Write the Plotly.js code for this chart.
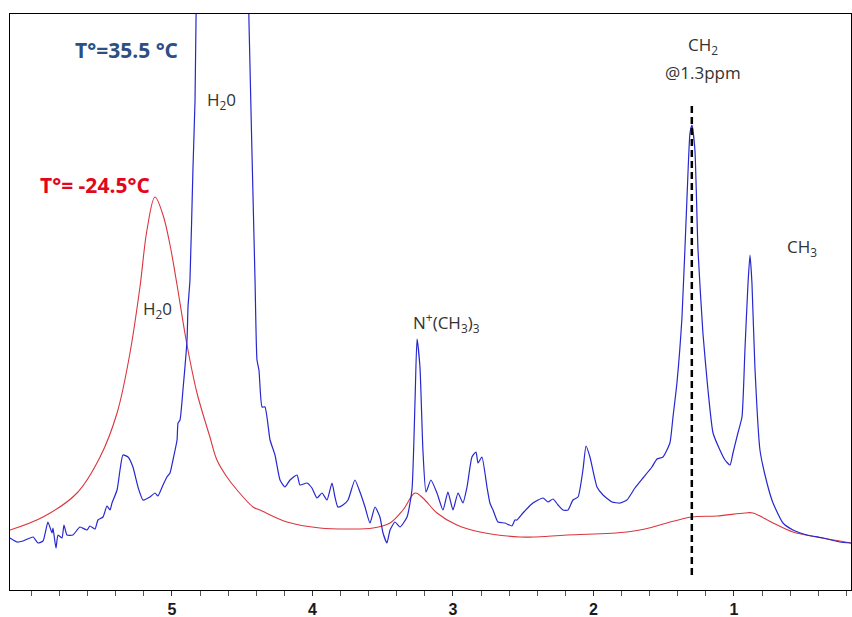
<!DOCTYPE html>
<html>
<head>
<meta charset="utf-8">
<script src="https://cdn.plot.ly/plotly-3.0.1.min.js"></script>
<style>html,body{margin:0;padding:0;background:#fff;}#chart{width:852px;height:617px;}</style>
</head>
<body>
<div id="chart"></div>
<script>
// Chemical shift (ppm) and intensity (a.u.)
const bluePpm = [6.153,6.103,6.060,5.989,5.954,5.918,5.883,5.854,5.847,5.826,5.811,5.783,5.769,5.747,5.705,5.655,5.605,5.584,5.548,5.527,5.491,5.463,5.441,5.427,5.391,5.370,5.349,5.313,5.278,5.242,5.206,5.157,5.121,5.100,5.064,5.036,5.014,4.993,4.964,4.957,4.943,4.922,4.893,4.886,4.872,4.851,4.836,4.829,4.64,4.452,4.409,4.395,4.381,4.359,4.338,4.302,4.267,4.231,4.196,4.160,4.110,4.089,4.039,4.004,3.968,3.932,3.897,3.861,3.840,3.819,3.783,3.747,3.698,3.662,3.626,3.591,3.555,3.520,3.498,3.470,3.448,3.413,3.377,3.327,3.292,3.270,3.256,3.235,3.214,3.192,3.157,3.114,3.071,3.036,3.000,2.964,2.929,2.900,2.865,2.836,2.822,2.794,2.758,2.737,2.715,2.680,2.630,2.580,2.559,2.544,2.502,2.431,2.359,2.324,2.288,2.252,2.217,2.181,2.146,2.110,2.075,2.053,2.025,1.975,1.932,1.868,1.811,1.762,1.705,1.648,1.584,1.548,1.505,1.456,1.434,1.406,1.370,1.335,1.313,1.299,1.278,1.256,1.221,1.185,1.149,1.100,1.064,1.028,1.007,0.972,0.943,0.922,0.900,0.886,0.872,0.851,0.815,0.765,0.722,0.651,0.580,0.480,0.367,0.246,0.167];
const blueInt = [52,48,49,53,47,49,68,57,62,42,55,52,65,55,55,63,60,64,61,70,73,84,80,87,100,120,135,133,123,103,90,93,97,94,105,113,117,130,150,167,170,200,250,283,310,420,490,570,2000,568,310,230,220,183,183,150,135,110,103,110,115,105,107,102,92,97,90,107,93,83,85,90,110,98,83,67,83,73,57,47,60,68,63,73,100,190,251,223,140,98,110,97,80,98,80,97,87,103,133,138,127,133,103,87,80,68,67,64,70,70,77,87,92,88,91,85,80,80,90,93,120,144,133,103,95,88,87,90,102,112,123,131,133,147,173,207,273,390,457,465,440,340,257,200,157,140,130,125,137,157,173,240,307,335,307,223,140,107,87,67,60,55,52,48,47];

const redPpm = [6.153,5.918,5.676,5.512,5.391,5.299,5.228,5.178,5.121,5.064,5.014,4.964,4.893,4.822,4.730,4.680,4.609,4.537,4.423,4.374,4.181,3.947,3.733,3.569,3.448,3.356,3.270,3.214,3.114,2.972,2.808,2.523,2.431,2.189,1.762,1.577,1.477,1.299,1.121,0.922,0.865,0.722,0.580,0.409,0.167];
const redInt = [60,73,97,133,177,237,303,360,393,375,345,305,245,197,153,130,113,100,83,80,68,62,61,62,67,80,97,92,77,65,58,53,53,55,58,63,67,73,74,77,77,67,58,53,47];

const seriesNames = ["T°=35.5 °C", "T°= -24.5°C"];
const ch2Ppm = 1.3;
const ch2LineInt = [15, 486];
const tickVals = [5, 4, 3, 2, 1];
const tickText = ["5", "4", "3", "2", "1"];

const labelFont = {family: "Open Sans", size: 17, color: "#333333"};

const traces = [
  {x: redPpm, y: redInt, type: "scatter", mode: "lines", name: seriesNames[1],
   line: {color: "#d9363e", width: 1.1, shape: "spline", smoothing: 1}, hoverinfo: "skip"},
  {x: bluePpm, y: blueInt, type: "scatter", mode: "lines", name: seriesNames[0],
   line: {color: "#2727cf", width: 1.2, shape: "spline", smoothing: 0.5}, hoverinfo: "skip"}
];

const layout = {
  width: 852, height: 617,
  margin: {l: 10, r: 1, t: 14, b: 27},
  paper_bgcolor: "#ffffff", plot_bgcolor: "#ffffff",
  showlegend: false,
  xaxis: {
    range: [6.153, 0.167], autorange: false,
    tickvals: tickVals, ticktext: tickText,
    ticks: "outside", ticklen: 5, tickwidth: 1, tickcolor: "#333",
    minor: {dtick: 0.2, ticks: "outside", ticklen: 5, tickwidth: 1, tickcolor: "#555", showgrid: false},
    tickfont: {family: "Liberation Sans", size: 16, weight: "bold", color: "#1a1a1a"},
    showline: true, linecolor: "#000", linewidth: 1, mirror: true,
    showgrid: false, zeroline: false
  },
  yaxis: {
    range: [0, 576], autorange: false,
    showticklabels: false, ticks: "",
    showline: true, linecolor: "#000", linewidth: 1, mirror: true,
    showgrid: false, zeroline: false
  },
  shapes: [
    {type: "line", xref: "x", yref: "y", x0: ch2Ppm, x1: ch2Ppm, y0: ch2LineInt[0], y1: ch2LineInt[1],
     line: {color: "#000", width: 2.5, dash: "7px,4px"}}
  ],
  annotations: [
    {x: 5.324, y: 540, xref: "x", yref: "y", text: "<b>T°=35.5 °C</b>", showarrow: false,
     font: {family: "Open Sans", size: 21, color: "#2d4f82"}},
    {x: 5.548, y: 405, xref: "x", yref: "y", text: "<b>T°= -24.5°C</b>", showarrow: false,
     font: {family: "Open Sans", size: 21, color: "#e3061c"}},
    {x: 4.648, y: 490, xref: "x", yref: "y", text: "H<sub>2</sub>0", showarrow: false, font: labelFont},
    {x: 5.103, y: 281, xref: "x", yref: "y", text: "H<sub>2</sub>0", showarrow: false, font: labelFont},
    {x: 3.043, y: 268, xref: "x", yref: "y", text: "N<sup>+</sup>(CH<sub>3</sub>)<sub>3</sub>", showarrow: false, font: labelFont},
    {x: 1.221, y: 545, xref: "x", yref: "y", text: "CH<sub>2</sub>", showarrow: false, font: labelFont},
    {x: 1.221, y: 518, xref: "x", yref: "y", text: "@1.3ppm", showarrow: false, font: labelFont},
    {x: 0.516, y: 343, xref: "x", yref: "y", text: "CH<sub>3</sub>", showarrow: false, font: labelFont},
    {x: 0.352, y: -17, xref: "x", yref: "y", text: "<b>(ppm)</b>", showarrow: false,
     font: {family: "Liberation Sans", size: 15, color: "#222"}}
  ]
};

Plotly.newPlot("chart", traces, layout, {staticPlot: true, displayModeBar: false});
</script>
</body>
</html>
